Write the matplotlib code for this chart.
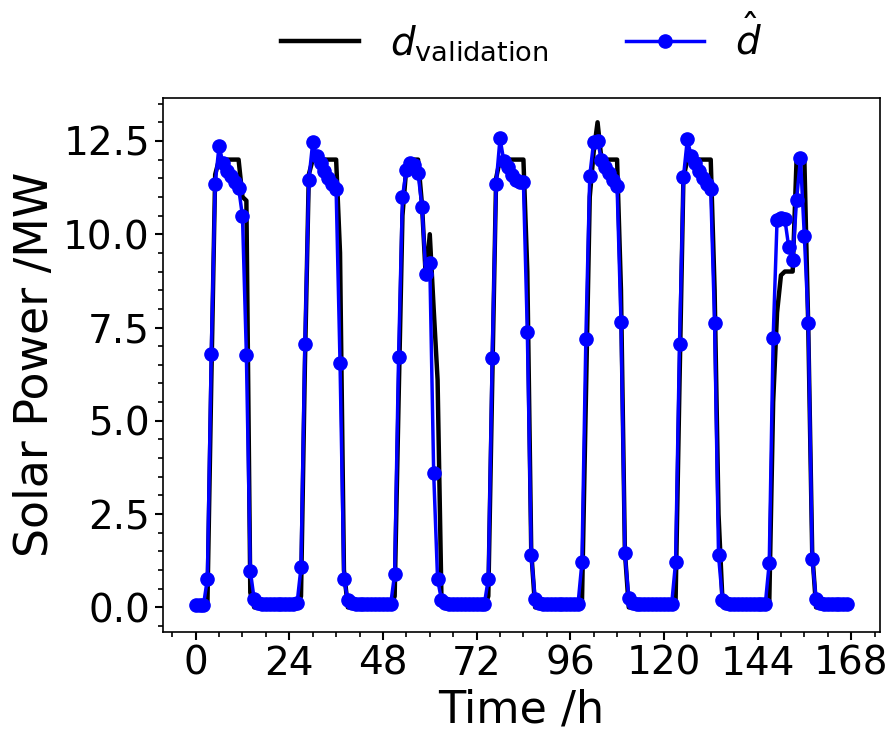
import numpy as np
import matplotlib
matplotlib.use("Agg")
from matplotlib import pyplot as plt
from matplotlib.ticker import MultipleLocator

# hourly index over one week
hours = list(range(168))

# measured solar power (validation), one row per day
d_validation = [
    0.0, 0.0, 0.0, 0.0, 6.0, 11.6, 12.0, 12.0, 12.0, 12.0, 12.0, 12.0,
    11.0, 10.9, 0.4, 0.0, 0.0, 0.0, 0.0, 0.0, 0.0, 0.0, 0.0, 0.0,
    0.0, 0.0, 0.0, 0.3, 6.5, 11.6, 12.0, 12.0, 12.0, 12.0, 12.0, 12.0,
    12.0, 9.5, 1.0, 0.0, 0.0, 0.0, 0.0, 0.0, 0.0, 0.0, 0.0, 0.0,
    0.0, 0.0, 0.0, 0.3, 5.5, 10.5, 11.8, 12.0, 12.0, 12.0, 10.8, 8.8,
    10.0, 8.0, 6.1, 0.2, 0.0, 0.0, 0.0, 0.0, 0.0, 0.0, 0.0, 0.0,
    0.0, 0.0, 0.0, 0.3, 6.0, 11.5, 12.0, 12.0, 12.0, 12.0, 12.0, 12.0,
    12.0, 9.0, 1.5, 0.0, 0.0, 0.0, 0.0, 0.0, 0.0, 0.0, 0.0, 0.0,
    0.0, 0.0, 0.0, 0.1, 5.5, 11.0, 12.2, 13.0, 12.0, 12.0, 12.0, 12.0,
    12.0, 8.5, 1.5, 0.0, 0.0, 0.0, 0.0, 0.0, 0.0, 0.0, 0.0, 0.0,
    0.0, 0.0, 0.0, 0.2, 6.0, 11.5, 12.0, 12.0, 12.0, 12.0, 12.0, 12.0,
    12.0, 8.5, 2.5, 0.2, 0.0, 0.0, 0.0, 0.0, 0.0, 0.0, 0.0, 0.0,
    0.0, 0.0, 0.0, 0.1, 5.5, 7.9, 8.9, 9.0, 9.0, 9.0, 12.0, 12.0,
    12.0, 7.5, 1.5, 0.0, 0.0, 0.0, 0.0, 0.0, 0.0, 0.0, 0.0, 0.0,
]

# model output (d hat)
d_hat = [
    0.05, 0.05, 0.06, 0.76, 6.8, 11.35, 12.37, 11.9, 11.7, 11.55, 11.4, 11.25,
    10.48, 6.77, 0.98, 0.22, 0.12, 0.1, 0.1, 0.1, 0.1, 0.1, 0.1, 0.1,
    0.1, 0.1, 0.12, 1.07, 7.07, 11.45, 12.46, 12.1, 11.9, 11.7, 11.5, 11.35,
    11.2, 6.55, 0.75, 0.2, 0.12, 0.1, 0.1, 0.1, 0.1, 0.1, 0.1, 0.1,
    0.1, 0.1, 0.1, 0.9, 6.7, 11.0, 11.72, 11.9, 11.85, 11.64, 10.73, 8.94,
    9.24, 3.6, 0.75, 0.2, 0.12, 0.1, 0.1, 0.1, 0.1, 0.1, 0.1, 0.1,
    0.1, 0.1, 0.1, 0.76, 6.69, 11.34, 12.57, 11.95, 11.8, 11.6, 11.45, 11.4,
    11.4, 7.39, 1.39, 0.22, 0.12, 0.1, 0.1, 0.1, 0.1, 0.1, 0.1, 0.1,
    0.1, 0.1, 0.1, 1.21, 7.2, 11.56, 12.48, 12.5, 12.0, 11.8, 11.65, 11.45,
    11.3, 7.66, 1.45, 0.25, 0.12, 0.1, 0.1, 0.1, 0.1, 0.1, 0.1, 0.1,
    0.1, 0.1, 0.1, 1.21, 7.06, 11.52, 12.54, 12.1, 11.9, 11.7, 11.5, 11.35,
    11.22, 7.61, 1.39, 0.2, 0.12, 0.1, 0.1, 0.1, 0.1, 0.1, 0.1, 0.1,
    0.1, 0.1, 0.1, 1.19, 7.22, 10.37, 10.44, 10.4, 9.65, 9.3, 10.92, 12.03,
    9.94, 7.63, 1.29, 0.22, 0.12, 0.1, 0.1, 0.1, 0.1, 0.1, 0.1, 0.1,
]

x_ticks = [0, 24, 48, 72, 96, 120, 144, 168]

fig, ax = plt.subplots(figsize=(8.96, 7.37), dpi=100)
fig.subplots_adjust(left=0.182, right=0.982, top=0.867, bottom=0.143)

ax.plot(hours, d_validation, color="black", lw=3.2, label=r"$d_{\mathrm{validation}}$")
ax.plot(hours, d_hat, color="blue", lw=2.5, marker="o", markersize=9.5,
        label=r"$\hat{d}$")

ax.set_xticks(x_ticks)
ax.xaxis.set_minor_locator(MultipleLocator(6))
ax.yaxis.set_minor_locator(MultipleLocator(0.5))
ax.tick_params(which="major", labelsize=28, length=6, width=1.5)
ax.tick_params(which="minor", length=3.5, width=1.2)
for s in ax.spines.values():
    s.set_linewidth(1.2)

ax.set_xlabel("Time /h", fontsize=32)
ax.set_ylabel("Solar Power /MW", fontsize=33)

ax.legend(loc="lower center", bbox_to_anchor=(0.5, 1.0), ncol=2,
          frameon=False, fontsize=28)

fig.savefig("out.png", dpi=100)
